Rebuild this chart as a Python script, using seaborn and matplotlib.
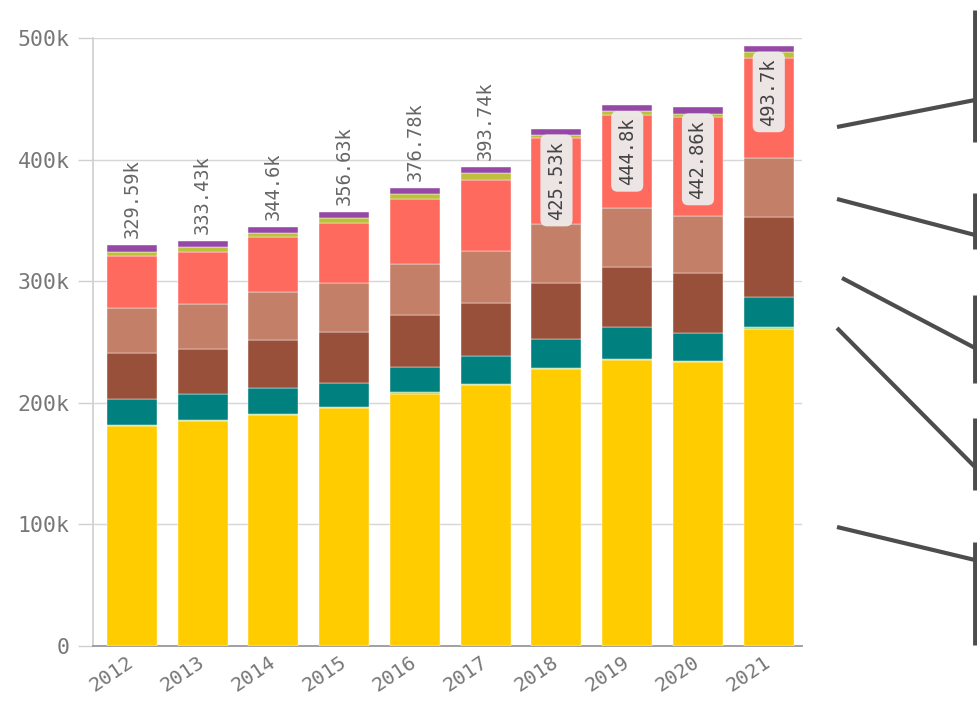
import matplotlib
matplotlib.use("Agg")
import matplotlib.pyplot as plt
import matplotlib.ticker as mticker
from matplotlib.lines import Line2D
import numpy as np
import seaborn as sns

# ── Data (values in thousands) ────────────────────────────────────────────────

years = ["2012", "2013", "2014", "2015", "2016", "2017", "2018", "2019", "2020", "2021"]

yellow = [181.0, 185.0, 190.0, 195.5, 207.5, 214.5, 227.5, 235.0, 233.5, 261.0]
green  = [1.0, 1.0, 1.0, 1.0, 1.0, 1.0, 1.0, 1.0, 1.0, 1.0]
teal   = [20.9, 21.0, 21.4, 20.1, 21.2, 23.0, 23.7, 26.6, 22.7, 25.3]
brown  = [37.8, 37.5, 39.3, 41.9, 42.5, 43.3, 46.6, 49.4, 49.3, 65.3]
tan    = [37.0, 36.8, 39.2, 39.8, 41.7, 43.3, 48.2, 48.0, 47.1, 48.4]
salmon = [43.3, 42.5, 45.2, 49.8, 53.5, 58.1, 70.5, 76.7, 81.2, 82.7]
olive  = [3.3, 4.1, 3.9, 3.6, 4.1, 5.5, 2.7, 3.3, 2.7, 5.0]
purple = [5.29, 5.53, 4.6, 4.93, 5.28, 5.04, 5.33, 4.8, 5.36, 5.0]

series = [yellow, green, teal, brown, tan, salmon, olive, purple]
colors = ["#FFCC00", "#A9D46F", "#00807F", "#98503A", "#C47F69",
          "#FF6A5F", "#BCC03C", "#9548A6"]

# ── Plot ──────────────────────────────────────────────────────────────────────

sns.set_theme(style="white")
plt.rcParams["font.family"] = ["DejaVu Sans Mono", "DejaVu Sans"]

fig = plt.figure(figsize=(9.78, 7.06), dpi=100)
ax = fig.add_axes([93 / 978, 1 - 646 / 706, (802 - 93) / 978, (646 - 38) / 706])

bottom = np.zeros(len(years))
for vals, col in zip(series, colors):
    v = np.array(vals) * 1000
    sns.barplot(x=years, y=v, bottom=bottom, color=col, width=0.707,
                edgecolor="white", linewidth=0.3, saturation=1, ax=ax, zorder=3)
    bottom = bottom + v

totals = bottom
for i, t in enumerate(totals):
    label = f"{round(t / 1000, 2):g}k"
    if t < 400000:
        ax.annotate(label, (i, t), xytext=(0, 5), textcoords="offset points",
                    rotation=90, ha="center", va="bottom", fontsize=13.5,
                    color="#666666", zorder=5)
    else:
        ax.annotate(label, (i, t), xytext=(0, -9), textcoords="offset points",
                    rotation=90, ha="center", va="top", fontsize=13.5,
                    color="#444444", zorder=5,
                    bbox=dict(boxstyle="round,pad=0.35", fc="#ECECEC",
                              ec="none", alpha=0.95))

ax.set_ylim(0, 500000)
ax.set_xlim(-0.55, 9.47)
ax.yaxis.set_major_locator(mticker.MultipleLocator(100000))
ax.yaxis.set_major_formatter(
    mticker.FuncFormatter(lambda v, p: "0" if v == 0 else f"{int(v / 1000)}k"))

ax.grid(axis="y", color="#D6D6D6", linewidth=1, zorder=0)
ax.grid(axis="x", visible=False)
for s in ["top", "right"]:
    ax.spines[s].set_visible(False)
ax.spines["left"].set_color("#D0D0D0")
ax.spines["bottom"].set_color("#999999")
ax.spines["bottom"].set_linewidth(1.3)

ax.tick_params(axis="y", length=11, width=1, color="#D0D0D0", pad=6,
               labelsize=15.5, labelcolor="#777777", left=True)
ax.tick_params(axis="x", length=0, pad=10, labelsize=14.5, labelcolor="#777777")
for lbl in ax.get_xticklabels():
    lbl.set_rotation(34)
    lbl.set_ha("right")
    lbl.set_va("center")
    lbl.set_rotation_mode("anchor")
ax.set_xlabel("")
ax.set_ylabel("")

# ── Leader lines / brackets at the right edge ─────────────────────────────────

W, H = 978, 706
def px_line(x0, y0, x1, y1, lw=3.0):
    fig.add_artist(Line2D([x0 / W, x1 / W], [1 - y0 / H, 1 - y1 / H],
                          transform=fig.transFigure, color="#4D4D4D",
                          linewidth=lw, solid_capstyle="butt"))

leaders = [(837, 127, 975, 100), (837, 199, 975, 235), (842, 278, 975, 348),
           (837, 328, 975, 467), (837, 527, 975, 560)]
brackets = [(10, 142), (193, 249), (295, 383), (418, 490), (542, 645)]
for x0, y0, x1, y1 in leaders:
    px_line(x0, y0, x1, y1)
for y0, y1 in brackets:
    px_line(975, y0, 975, y1, lw=3.5)

fig.savefig("out.png", dpi=100)
